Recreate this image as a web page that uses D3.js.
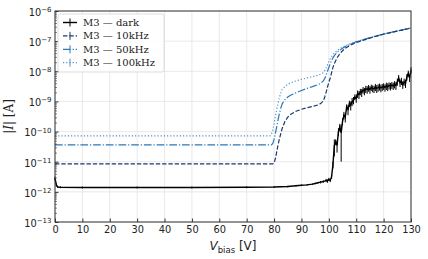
<!DOCTYPE html>
<html>
<head>
<meta charset="utf-8">
<script src="https://cdn.jsdelivr.net/npm/d3@7"></script>
<style>
  body { margin: 0; background: #fff; }
  svg { display: block; }
</style>
</head>
<body>
<div id="chart"></div>
<script>
// bias voltage [V] and current [A] for every measurement
let darkV = [0, 0.5, 1, 2, 10, 30, 50, 70, 80, 85, 88, 90, 92, 94, 95, 96, 97, 98, 99, 99.5,
  100, 100.5, 101, 101.5, 102, 102.5, 103, 103.5, 104, 104.5, 105, 105.5, 106, 106.5, 107, 107.5,
  108, 108.5, 109, 109.5, 110, 110.5, 111, 111.5, 112, 112.5, 113, 113.5, 114, 114.5, 115, 115.5,
  116, 116.5, 117, 117.5, 118, 118.5, 119, 119.5, 120, 120.5, 121, 121.5, 122, 122.5, 123, 123.5,
  124, 124.5, 125, 125.5, 126, 126.5, 127, 127.5, 128, 128.5, 129, 129.5, 130];
let darkI = [2.8e-12, 1.7e-12, 1.45e-12, 1.42e-12, 1.4e-12, 1.4e-12, 1.4e-12, 1.42e-12, 1.45e-12, 1.5e-12,
  1.6e-12, 1.65e-12, 1.7e-12, 1.8e-12, 1.9e-12, 2.0e-12, 2.1e-12, 2.2e-12, 2.4e-12, 2.3e-12,
  2.6e-12, 2.4e-12, 3.2e-12, 8e-12, 3.5e-11, 4.5e-11, 3.5e-11, 1.0e-10, 1.4e-10, 9e-11,
  2.2e-10, 3.5e-10, 3.0e-10, 6.5e-10, 5.5e-10, 8.5e-10, 7.5e-10, 1.0e-9, 1.1e-9, 1.4e-9,
  1.3e-9, 1.8e-9, 1.7e-9, 2.1e-9, 2.0e-9, 2.4e-9, 2.2e-9, 2.6e-9, 2.5e-9, 2.8e-9,
  2.5e-9, 2.9e-9, 2.7e-9, 2.6e-9, 3.0e-9, 2.7e-9, 2.9e-9, 3.1e-9, 2.8e-9, 3.0e-9,
  3.2e-9, 2.9e-9, 3.3e-9, 3.1e-9, 3.4e-9, 3.2e-9, 3.5e-9, 3.3e-9, 3.7e-9, 3.4e-9,
  4.5e-9, 6.0e-9, 4.2e-9, 4.8e-9, 3.6e-9, 4.5e-9, 4.0e-9, 6.5e-9, 8.5e-9, 6.0e-9, 1.1e-8];
let darkErr = [4e-13, 2e-13, 1e-13, 1e-13, 1e-13, 1e-13, 1e-13, 1e-13, 1e-13, 1e-13,
  1e-13, 1e-13, 1e-13, 1e-13, 1e-13, 1e-13, 2e-13, 2e-13, 3e-13, 3e-13,
  3e-13, 3e-13, 5e-13, 2e-12, 2e-11, 1e-11, 1.5e-11, 3e-11, 4e-11, 8e-11,
  6e-11, 1e-10, 1e-10, 1.5e-10, 2e-10, 2e-10, 2.5e-10, 3e-10, 3e-10, 3e-10,
  4e-10, 5e-10, 5e-10, 5e-10, 6e-10, 6e-10, 6e-10, 7e-10, 7e-10, 7e-10,
  7e-10, 7e-10, 7e-10, 7e-10, 8e-10, 8e-10, 8e-10, 8e-10, 8e-10, 8e-10,
  8e-10, 8e-10, 9e-10, 9e-10, 9e-10, 9e-10, 9e-10, 9e-10, 1e-9, 1e-9,
  1.2e-9, 1.5e-9, 1.2e-9, 1.3e-9, 1e-9, 1.2e-9, 1.2e-9, 1.6e-9, 2e-9, 1.6e-9, 2.5e-9];

let f10V = [0, 79.5, 80, 80.5, 81, 81.5, 82, 82.5, 83, 84, 85, 86, 88, 90, 92, 94, 96, 97, 98,
  98.5, 99, 99.5, 100, 100.5, 101, 101.5, 102, 103, 104, 105, 106, 108, 110, 113, 116, 120, 125, 130];
let f10I = [8.5e-12, 8.5e-12, 9.0e-12, 1.3e-11, 2.2e-11, 3.8e-11, 6.0e-11, 9.0e-11, 1.3e-10, 2.2e-10,
  3.0e-10, 3.7e-10, 4.7e-10, 5.5e-10, 6.2e-10, 6.8e-10, 7.6e-10, 8.5e-10, 1.05e-9,
  1.4e-9, 2.0e-9, 3.0e-9, 4.3e-9, 6.0e-9, 9.0e-9, 1.35e-8, 1.8e-8, 2.8e-8, 3.8e-8, 4.8e-8,
  5.8e-8, 7.5e-8, 9.0e-8, 1.1e-7, 1.35e-7, 1.7e-7, 2.15e-7, 2.7e-7];

let f50V = [0, 79, 79.5, 80, 80.5, 81, 81.5, 82, 82.5, 83, 84, 85, 86, 88, 90, 92, 94, 96, 97, 98,
  98.5, 99, 99.5, 100, 100.5, 101, 101.5, 102, 103, 104, 105, 106, 108, 110, 113, 116, 120, 125, 130];
let f50I = [3.6e-11, 3.6e-11, 4.0e-11, 5.5e-11, 9e-11, 1.5e-10, 2.6e-10, 4.2e-10, 6.2e-10, 8.5e-10,
  1.15e-9, 1.4e-9, 1.6e-9, 1.95e-9, 2.3e-9, 2.7e-9, 3.1e-9, 3.6e-9, 4.0e-9, 4.8e-9,
  5.8e-9, 7.5e-9, 1.0e-8, 1.35e-8, 1.8e-8, 2.3e-8, 2.8e-8, 3.3e-8, 4.2e-8, 5.0e-8,
  5.8e-8, 6.6e-8, 8.0e-8, 9.5e-8, 1.15e-7, 1.38e-7, 1.72e-7, 2.17e-7, 2.72e-7];

let f100V = [0, 78.5, 79, 79.5, 80, 80.5, 81, 81.5, 82, 82.5, 83, 84, 85, 86, 88, 90, 92, 94, 96, 97, 98,
  98.5, 99, 99.5, 100, 100.5, 101, 101.5, 102, 103, 104, 105, 106, 108, 110, 113, 116, 120, 125, 130];
let f100I = [7.2e-11, 7.2e-11, 8e-11, 1.1e-10, 1.8e-10, 3.2e-10, 5.5e-10, 9e-10, 1.4e-9, 2.0e-9,
  2.5e-9, 3.2e-9, 3.7e-9, 4.1e-9, 4.8e-9, 5.4e-9, 6.0e-9, 6.6e-9, 7.4e-9, 8.0e-9, 9.0e-9,
  1.05e-8, 1.3e-8, 1.65e-8, 2.1e-8, 2.6e-8, 3.1e-8, 3.6e-8, 4.0e-8, 4.8e-8, 5.6e-8,
  6.3e-8, 7.0e-8, 8.3e-8, 9.8e-8, 1.17e-7, 1.4e-7, 1.74e-7, 2.2e-7, 2.75e-7];

let seriesNames = ["M3 \u2014 dark", "M3 \u2014 10kHz", "M3 \u2014 50kHz", "M3 \u2014 100kHz"];
let xTicks = [0, 10, 20, 30, 40, 50, 60, 70, 80, 90, 100, 110, 120, 130];
let yExponents = [-13, -12, -11, -10, -9, -8, -7, -6];

let W = 428, H = 259;
let margin = {left: 55, right: 17, top: 11, bottom: 37};
let width = W - margin.left - margin.right;
let height = H - margin.top - margin.bottom;

let svg = d3.select("#chart").append("svg")
    .attr("width", W)
    .attr("height", H)
  .append("g")
    .attr("transform", "translate(" + margin.left + "," + margin.top + ")");

let x = d3.scaleLinear().domain([0, 130]).range([0, width]);
let y = d3.scaleLog().domain([1e-13, 1e-6]).range([height, 0]);

// grid
svg.append("g").selectAll("line").data(xTicks).enter().append("line")
    .attr("x1", d => x(d)).attr("x2", d => x(d))
    .attr("y1", 0).attr("y2", height)
    .attr("stroke", "#e3e3e3").attr("stroke-width", 0.8);
svg.append("g").selectAll("line").data(yExponents).enter().append("line")
    .attr("x1", 0).attr("x2", width)
    .attr("y1", d => y(Math.pow(10, d))).attr("y2", d => y(Math.pow(10, d)))
    .attr("stroke", "#e3e3e3").attr("stroke-width", 0.8);

// data
let series = [
  {name: seriesNames[0], V: darkV, I: darkI, err: darkErr, color: "#000000", dash: null, w: 1.4},
  {name: seriesNames[1], V: f10V, I: f10I, color: "#1a3a6a", dash: "4.4,1.9", w: 1.2},
  {name: seriesNames[2], V: f50V, I: f50I, color: "#2a78b6", dash: "7.7,1.9,1.2,1.9", w: 1.2},
  {name: seriesNames[3], V: f100V, I: f100I, color: "#4f93cc", dash: "1.2,2", w: 1.2}
];

let line = d3.line().x(d => x(d[0])).y(d => y(d[1]));

let plot = svg.append("g");
series.slice().reverse().forEach(s => {
  let pts = s.V.map((v, i) => [v, s.I[i]]);
  plot.append("path")
      .attr("d", line(pts))
      .attr("fill", "none")
      .attr("stroke", s.color)
      .attr("stroke-width", s.w)
      .attr("stroke-dasharray", s.dash);
  if (s.err) {
    plot.append("g").selectAll("line").data(pts).enter().append("line")
        .attr("x1", d => x(d[0])).attr("x2", d => x(d[0]))
        .attr("y1", (d, i) => y(Math.max(d[1] - s.err[i], 1e-13)))
        .attr("y2", (d, i) => y(d[1] + s.err[i]))
        .attr("stroke", s.color).attr("stroke-width", 1);
  }
});

// frame
svg.append("rect")
    .attr("width", width).attr("height", height)
    .attr("fill", "none").attr("stroke", "#333").attr("stroke-width", 1);

// axes
let xAxis = svg.append("g")
    .attr("transform", "translate(0," + height + ")")
    .call(d3.axisBottom(x).tickValues(xTicks).tickSize(-3.5).tickPadding(4.5).tickFormat(d3.format("d")));
xAxis.select(".domain").remove();
xAxis.selectAll("text").attr("font-family", "DejaVu Sans").attr("font-size", 9.8).attr("fill", "#222");
xAxis.selectAll("line").attr("stroke", "#333");

let yAxis = svg.append("g")
    .call(d3.axisLeft(y).tickValues(yExponents.map(e => Math.pow(10, e))).tickSize(-3.5).tickPadding(3.5).tickFormat(""));
yAxis.select(".domain").remove();
yAxis.selectAll("line").attr("stroke", "#333");
yAxis.selectAll(".tick text").each(function(d) {
  let t = d3.select(this)
      .attr("font-family", "DejaVu Sans").attr("font-size", 9.8).attr("fill", "#222")
      .attr("dy", "0.45em");
  t.append("tspan").text("10");
  t.append("tspan").attr("dy", "-0.55em").attr("font-size", 7)
      .text("\u2212" + Math.abs(Math.round(Math.log10(d))));
});

let minors = [];
yExponents.slice(0, -1).forEach(e => {
  [2, 3, 4, 5, 6, 7, 8, 9].forEach(m => minors.push(m * Math.pow(10, e)));
});
let yMinor = svg.append("g")
    .call(d3.axisLeft(y).tickValues(minors).tickSize(-2).tickFormat(""));
yMinor.select(".domain").remove();
yMinor.selectAll("line").attr("stroke", "#333").attr("stroke-width", 0.6);

// axis labels
let xl = svg.append("text")
    .attr("x", x(65)).attr("y", height + 28)
    .attr("text-anchor", "middle")
    .attr("font-family", "DejaVu Sans").attr("font-size", 12).attr("fill", "#222");
xl.append("tspan").attr("font-style", "italic").text("V");
xl.append("tspan").attr("font-size", 8.5).attr("dy", 2.5).text("bias");
xl.append("tspan").attr("dy", -2.5).text(" [V]");

let yl = svg.append("text")
    .attr("transform", "translate(" + (-42) + "," + (height / 2) + ") rotate(-90)")
    .attr("text-anchor", "middle")
    .attr("font-family", "DejaVu Serif").attr("font-size", 12).attr("fill", "#222");
yl.append("tspan").text("|");
yl.append("tspan").attr("font-style", "italic").text("I");
yl.append("tspan").text("| [A]");

// legend
let legend = svg.append("g").attr("transform", "translate(3,3)");
legend.append("rect")
    .attr("width", 106).attr("height", 58).attr("rx", 2)
    .attr("fill", "#fff").attr("fill-opacity", 0.8)
    .attr("stroke", "#d6d6d6").attr("stroke-width", 0.8);
series.forEach((s, i) => {
  let row = legend.append("g").attr("transform", "translate(0," + (8.5 + i * 13.4) + ")");
  row.append("line")
      .attr("x1", 5).attr("x2", 19).attr("y1", 0).attr("y2", 0)
      .attr("stroke", s.color).attr("stroke-width", s.w)
      .attr("stroke-dasharray", s.dash);
  row.append("line")
      .attr("x1", 12).attr("x2", 12).attr("y1", -4).attr("y2", 4)
      .attr("stroke", s.color).attr("stroke-width", 1);
  row.append("text")
      .attr("x", 25).attr("y", 0).attr("dy", "0.35em")
      .attr("font-family", "DejaVu Serif").attr("font-size", 10).attr("fill", "#222")
      .text(s.name);
});
</script>
</body>
</html>
